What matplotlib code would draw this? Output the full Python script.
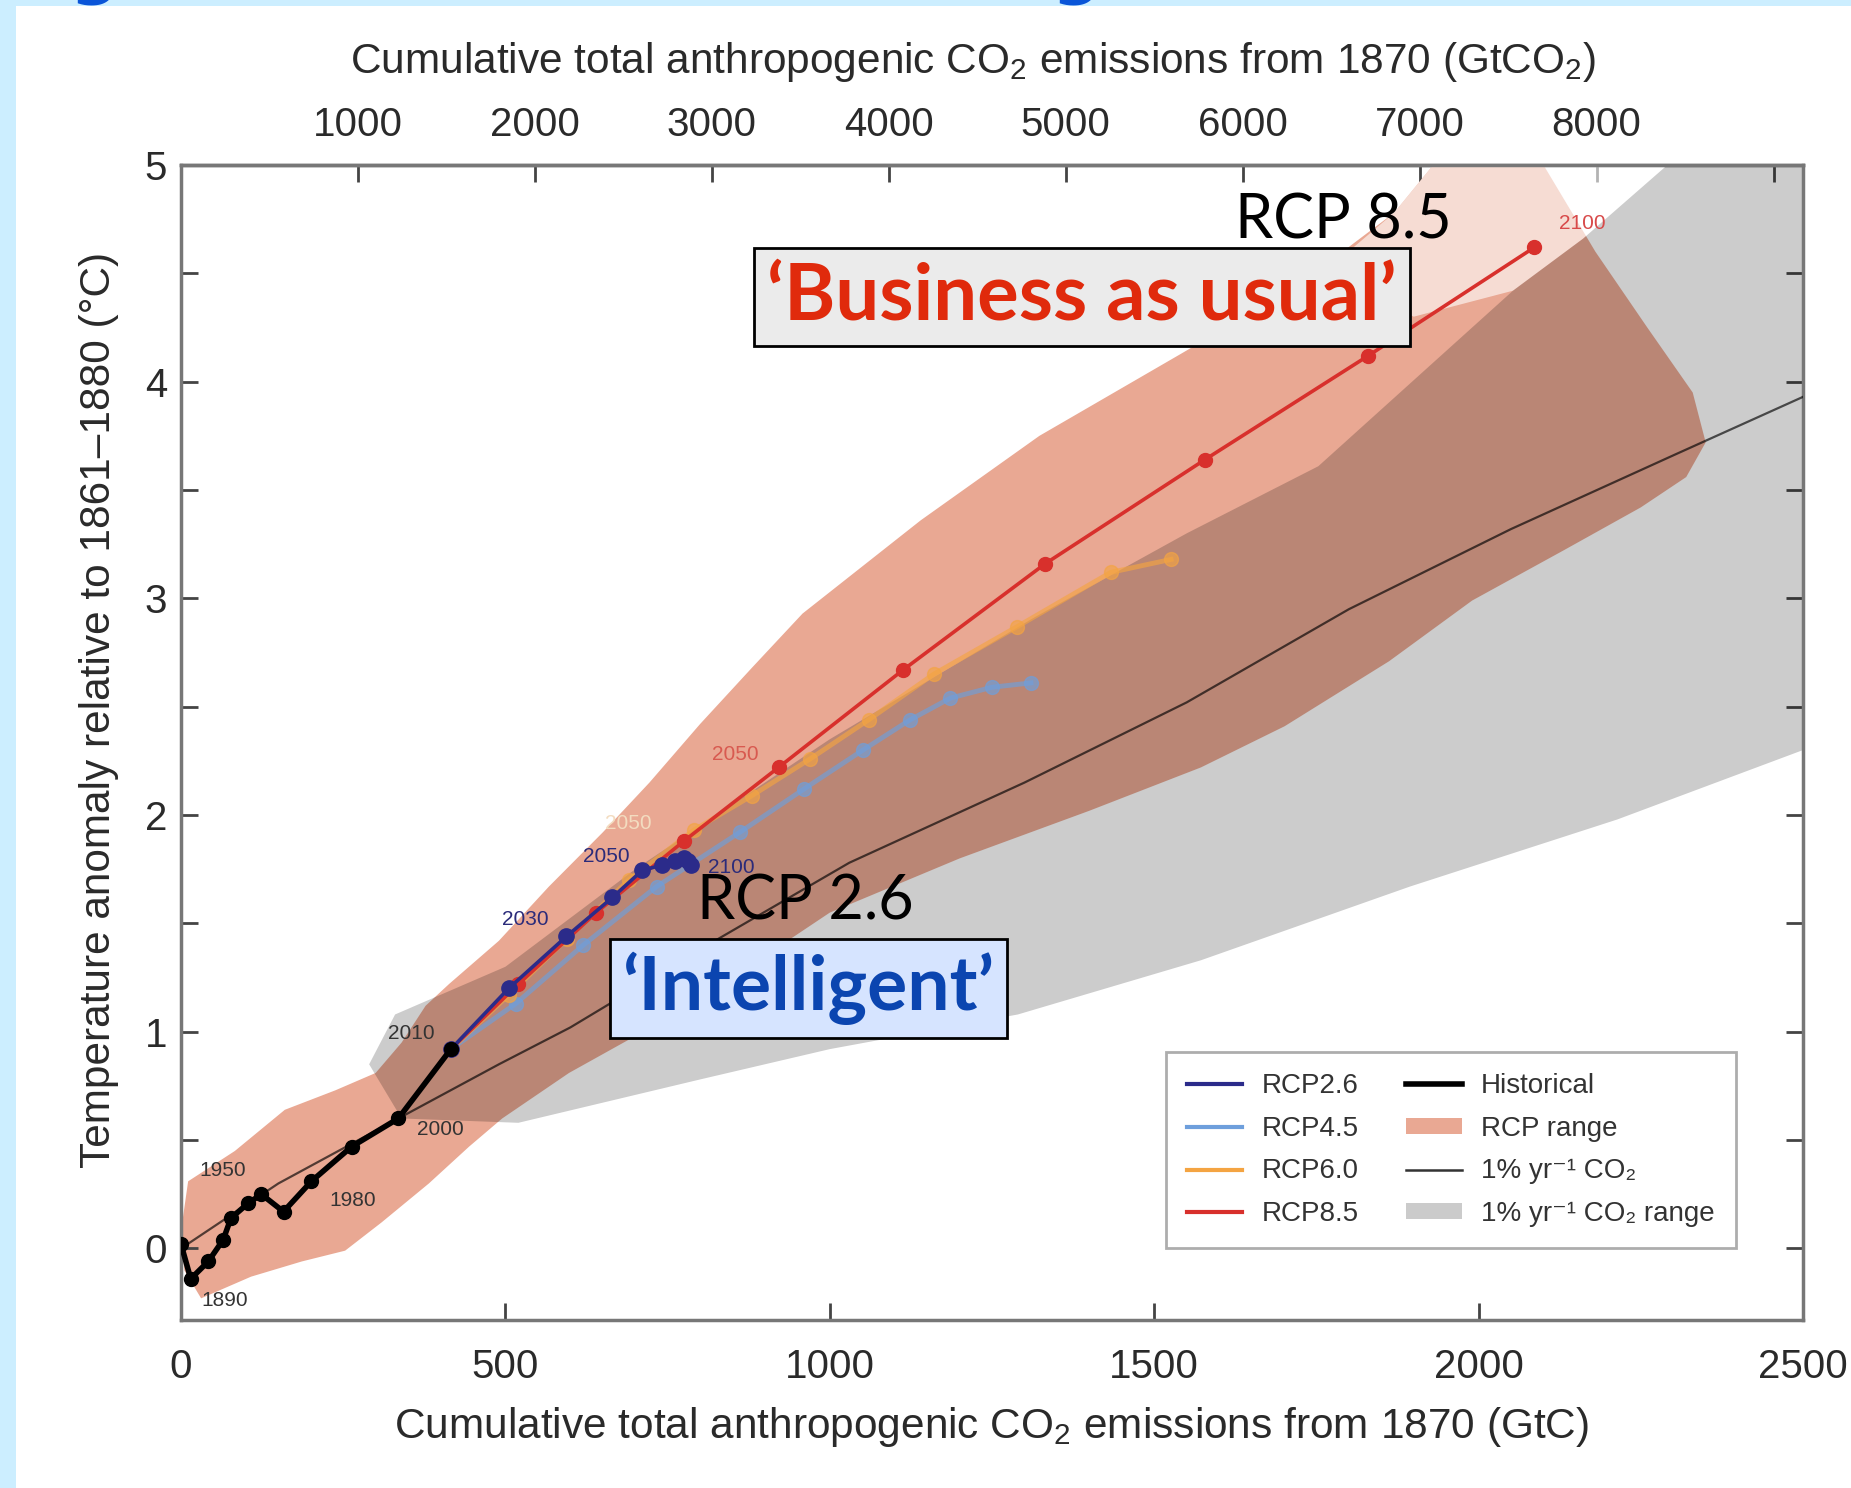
import numpy as np
import matplotlib.pyplot as plt
from matplotlib.lines import Line2D
from matplotlib.patches import Patch, Rectangle

plt.rcParams['font.family'] = ['Liberation Sans', 'DejaVu Sans']
plt.rcParams['mathtext.fontset'] = 'custom'
plt.rcParams['mathtext.rm'] = 'Liberation Sans'
plt.rcParams['mathtext.it'] = 'Liberation Sans:italic'
plt.rcParams['mathtext.bf'] = 'Liberation Sans:bold'

# cumulative emissions since 1870 (GtC) vs temperature anomaly (degC)
hist_x = [0, 15, 42, 65, 77, 104, 124, 158, 201, 263, 335, 416]
hist_y = [0.02, -0.14, -0.06, 0.04, 0.14, 0.21, 0.25, 0.17, 0.31, 0.47, 0.60, 0.92]

rcp26_x = [416, 505, 594, 665, 711, 742, 762, 775, 782, 786]
rcp26_y = [0.92, 1.20, 1.44, 1.62, 1.745, 1.77, 1.79, 1.80, 1.79, 1.77]

rcp45_x = [416, 516, 620, 733, 861, 960, 1051, 1124, 1186, 1250, 1310]
rcp45_y = [0.92, 1.13, 1.40, 1.67, 1.92, 2.12, 2.30, 2.44, 2.54, 2.59, 2.61]

rcp60_x = [416, 505, 595, 690, 790, 880, 970, 1060, 1160, 1289, 1433, 1526]
rcp60_y = [0.92, 1.17, 1.43, 1.70, 1.93, 2.09, 2.26, 2.44, 2.65, 2.87, 3.12, 3.18]

rcp85_x = [416, 520, 640, 775, 921, 1113, 1332, 1578, 1830, 2086]
rcp85_y = [0.92, 1.22, 1.55, 1.88, 2.22, 2.67, 3.16, 3.64, 4.12, 4.62]

pct_x = [0, 150, 335, 490, 600, 800, 1030, 1300, 1550, 1800, 2050, 2300, 2500]
pct_y = [0, 0.30, 0.60, 0.85, 1.02, 1.38, 1.78, 2.15, 2.52, 2.95, 3.32, 3.66, 3.93]

# RCP range envelope: upper edge left->right, lower edge right->left
rcp_upper_x = [0, 11, 83, 160, 238, 300, 340, 377, 413, 490, 567, 650, 722, 800, 880,
               958, 1140, 1323, 1542, 1724, 1870, 1930]
rcp_upper_y = [0.08, 0.31, 0.45, 0.64, 0.73, 0.81, 0.95, 1.12, 1.22, 1.42, 1.67, 1.92,
               2.15, 2.42, 2.68, 2.93, 3.36, 3.75, 4.13, 4.45, 4.78, 5.00]
rcp_lower_x = [2100, 2180, 2260, 2330, 2350, 2320, 2250, 2130, 1990, 1862, 1701, 1572,
               1400, 1200, 1000, 850, 700, 598, 495, 444, 382, 309, 253, 186, 108, 31, 5]
rcp_lower_y = [5.00, 4.60, 4.25, 3.95, 3.72, 3.56, 3.42, 3.22, 2.99, 2.71, 2.41, 2.22,
               2.02, 1.80, 1.55, 1.25, 0.98, 0.81, 0.60, 0.47, 0.30, 0.12, -0.01, -0.06,
               -0.13, -0.23, -0.10]

# faded upper end of the RCP8.5 range
fade_x = [1760, 1870, 1930, 2291, 2161, 2053, 1900]
fade_y = [4.50, 4.78, 5.00, 5.00, 4.66, 4.42, 4.30]

# 1% per year CO2 range envelope
pct_upper_x = [290, 330, 500, 700, 1000, 1314, 1550, 1753, 2053, 2161, 2291, 2500]
pct_upper_y = [0.85, 1.08, 1.30, 1.75, 2.35, 2.91, 3.30, 3.61, 4.42, 4.66, 5.00, 5.40]
pct_lower_x = [2500, 2214, 1894, 1572, 1290, 1000, 800, 520, 340]
pct_lower_y = [2.30, 1.98, 1.67, 1.33, 1.08, 0.92, 0.78, 0.58, 0.60]

year_labels = [
    ('1890', 67, -0.24, '#333333'), ('1950', 64, 0.36, '#333333'),
    ('1980', 265, 0.22, '#333333'), ('2000', 400, 0.55, '#333333'),
    ('2010', 355, 0.99, '#333333'), ('2030', 530, 1.52, '#2b2b7a'),
    ('2050', 655, 1.81, '#2b2b7a'), ('2100', 848, 1.76, '#2b2b7a'),
    ('2050', 855, 2.28, '#d85a50'), ('2050', 690, 1.96, '#f3dcc0'),
    ('2100', 2160, 4.73, '#d84a4a'),
]

fig = plt.figure(figsize=(18.51, 14.88), dpi=100)
fig.patch.set_facecolor('#cceeff')
fig.add_artist(Rectangle((16 / 1851, 0), 1, 1 - 6 / 1488, transform=fig.transFigure,
                         facecolor='white', edgecolor='none', zorder=-10))
# tails of the heading that runs off the top
for gx in [70 / 1851, 1052 / 1851]:
    fig.text(gx, 1.006, 'g', fontsize=50, fontweight='bold', color='#0a55d8',
             family='DejaVu Sans', va='baseline', ha='left')

ax = fig.add_axes([181 / 1851, 1 - 1320 / 1488, (1803 - 181) / 1851, (1320 - 165) / 1488])
ax.set_facecolor('white')

ax.fill(rcp_upper_x + rcp_lower_x, rcp_upper_y + rcp_lower_y, color='#e9a893', lw=0,
        zorder=1)
ax.fill(fade_x, fade_y, color='white', alpha=0.6, lw=0, zorder=1.5)
ax.fill(pct_upper_x + pct_lower_x, pct_upper_y + pct_lower_y, color='black', alpha=0.2,
        lw=0, zorder=2)
ax.plot(pct_x, pct_y, color='black', alpha=0.65, lw=1.6, zorder=3)

ax.plot(rcp45_x, rcp45_y, color='#6e9fdc', lw=3.5, marker='o', ms=10, alpha=0.65, zorder=4)
ax.plot(rcp60_x, rcp60_y, color='#f4a442', lw=3.5, marker='o', ms=10, alpha=0.65, zorder=4)
ax.plot(rcp85_x, rcp85_y, color='#d8302c', lw=2.6, marker='o', ms=10, zorder=5)
ax.plot(rcp26_x, rcp26_y, color='#2b2b8a', lw=2.6, marker='o', ms=11, zorder=6)
ax.plot(hist_x, hist_y, color='black', lw=4, marker='o', ms=10, zorder=7)

for txt, lx, ly, c in year_labels:
    ax.text(lx, ly, txt, fontsize=15, color=c, ha='center', va='center', zorder=8)

ax.set_xlim(0, 2500)
ax.set_ylim(-0.33, 5)
ax.set_xticks([0, 500, 1000, 1500, 2000, 2500])
ax.set_yticks([0, 1, 2, 3, 4, 5])
ax.set_yticks(np.arange(0.5, 5.0, 1.0), minor=True)
ax.tick_params(axis='both', which='both', direction='in', colors='#444444',
               labelcolor='#2a2a2a', width=2, length=12, top=False, right=True)
ax.tick_params(axis='x', labelsize=29, pad=20)
ax.tick_params(axis='y', labelsize=29, pad=10)
for sp in ax.spines.values():
    sp.set_color('#777777')
    sp.set_linewidth(2.5)

ax.set_xlabel('Cumulative total anthropogenic CO$_2$ emissions from 1870 (GtC)',
              fontsize=30.5, color='#2a2a2a', labelpad=14)
ax.set_ylabel('Temperature anomaly relative to 1861\u20131880 (\u00b0C)',
              fontsize=30.5, color='#2a2a2a')
ax.yaxis.set_label_coords(-0.038, 0.528)

secax = ax.secondary_xaxis('top', functions=(lambda g: g * 44 / 12, lambda g: g * 12 / 44))
top_ticks = [1000, 2000, 3000, 4000, 5000, 6000, 7000, 8000, 9000]
secax.set_xticks(top_ticks)
secax.set_xticklabels([str(t) if t < 9000 else '' for t in top_ticks])
secax.tick_params(direction='in', length=12, width=2, colors='#444444',
                  labelcolor='#2a2a2a', labelsize=29, pad=15)
secax.spines['top'].set_color('#777777')
secax.spines['top'].set_linewidth(2.5)
secax.set_xlabel('Cumulative total anthropogenic CO$_2$ emissions from 1870 (GtCO$_2$)',
                 fontsize=30.5, color='#2a2a2a', labelpad=24)
secax.xaxis.label.set_x(0.488)

handles = [
    Line2D([], [], color='#2b2b8a', lw=3),
    Line2D([], [], color='#6e9fdc', lw=3),
    Line2D([], [], color='#f4a442', lw=3),
    Line2D([], [], color='#d8302c', lw=3),
    Line2D([], [], color='black', lw=4),
    Patch(facecolor='#e9a893', edgecolor='none'),
    Line2D([], [], color='#333333', lw=1.8),
    Patch(facecolor='#cbcbcb', edgecolor='none'),
]
labels = ['RCP2.6', 'RCP4.5', 'RCP6.0', 'RCP8.5', 'Historical', 'RCP range',
          '1% yr\u207b\u00b9 CO\u2082', '1% yr\u207b\u00b9 CO\u2082 range']
leg = ax.legend(handles, labels, ncol=2, loc='lower right', bbox_to_anchor=(0.9585, 0.0624),
                borderaxespad=0, fontsize=20, frameon=True, fancybox=False,
                handlelength=2.0, handleheight=0.5, handletextpad=0.7, columnspacing=1.7,
                labelspacing=0.6, borderpad=0.75)
leg.get_frame().set_edgecolor('#999999')
leg.get_frame().set_linewidth(2)
for t in leg.get_texts():
    t.set_color('#333333')
leg.set_zorder(9)

# slide annotations
ax.text(1792, 4.74, 'RCP 8.5', fontsize=44, family=['Lato', 'DejaVu Sans'],
        color='black', ha='center', va='center', zorder=10)
ax.text(1388, 4.39, '\u2018Business as usual\u2019', fontsize=56, fontweight='bold',
        family=['Lato', 'DejaVu Sans'], color='#e02a0c', ha='center', va='center', zorder=10,
        bbox=dict(boxstyle='square,pad=0.17', facecolor='#ebebeb', edgecolor='black', lw=2))
ax.text(963, 1.60, 'RCP 2.6', fontsize=44, family=['Lato', 'DejaVu Sans'],
        color='black', ha='center', va='center', zorder=10)
ax.text(967, 1.20, '\u2018Intelligent\u2019', fontsize=54, fontweight='bold',
        family=['Lato', 'DejaVu Sans'], color='#0b45b0', ha='center', va='center', zorder=10,
        bbox=dict(boxstyle='square,pad=0.17', facecolor='#d6e4ff', edgecolor='black', lw=2))

fig.savefig('out.png', dpi=100, facecolor=fig.get_facecolor())
